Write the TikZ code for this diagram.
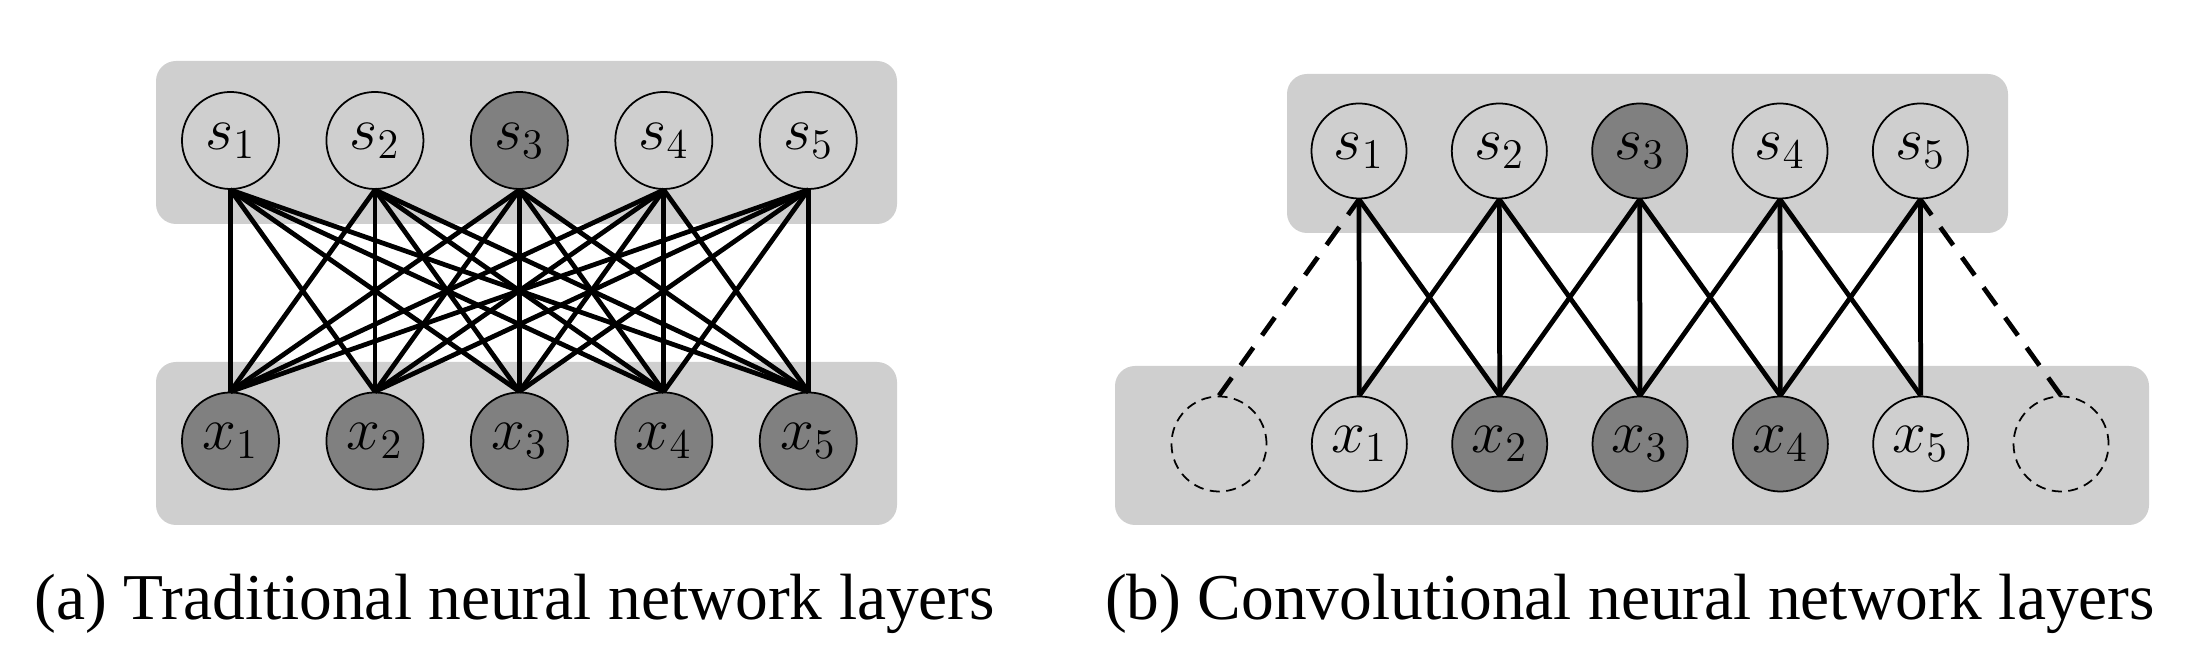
\documentclass[tikz,border=0pt]{standalone}
\usepackage{fontspec}
\setmainfont{Liberation Serif}
\usetikzlibrary{positioning}

\definecolor{panelgray}{gray}{0.81}
\definecolor{nodegray}{gray}{0.5}

\begin{document}
\begin{tikzpicture}[x=0.01cm, y=-0.01cm,
    panel/.style={fill=panelgray, rounded corners=0.2cm},
    unit/.style={circle, draw=black, line width=0.5pt, minimum size=0.97cm, inner sep=0pt, font=\fontsize{17}{20}\selectfont},
    active/.style={unit, fill=nodegray},
    ghost/.style={circle, draw=black, line width=0.5pt, dash pattern=on 0.1cm off 0.065cm, minimum size=0.95cm, inner sep=0pt},
    edge/.style={draw=black, line width=1.35pt},
    pad/.style={edge, dash pattern=on 0.22cm off 0.15cm},
    caption/.style={font=\fontsize{18.6}{22}\selectfont}]

    \useasboundingbox (0,0) rectangle (2212,668);

    % (a) traditional layers
    \fill[panel] (156,61) rectangle (897,224);
    \fill[panel] (156,362) rectangle (897,525);

    \node [unit] (a-s1) at (230.5,140.5) {$s_1$};
    \node [unit, right=0.456cm of a-s1] (a-s2) {$s_2$};
    \node [active, right=0.456cm of a-s2] (a-s3) {$s_3$};
    \node [unit, right=0.456cm of a-s3] (a-s4) {$s_4$};
    \node [unit, right=0.456cm of a-s4] (a-s5) {$s_5$};

    \node [active] (a-x1) at (230.5,441) {$x_1$};
    \node [active, right=0.456cm of a-x1] (a-x2) {$x_2$};
    \node [active, right=0.456cm of a-x2] (a-x3) {$x_3$};
    \node [active, right=0.456cm of a-x3] (a-x4) {$x_4$};
    \node [active, right=0.456cm of a-x4] (a-x5) {$x_5$};

    \foreach \i in {1,...,5}
        \foreach \j in {1,...,5}
            \draw [edge] (a-s\i.south) -- (a-x\j.north);

    % (b) convolutional layers
    \fill[panel] (1287,74) rectangle (2008,233);
    \fill[panel] (1115,366) rectangle (2149,525);

    \node [unit, minimum size=0.95cm] (b-s1) at (1359,151) {$s_1$};
    \node [unit, minimum size=0.95cm, right=0.435cm of b-s1] (b-s2) {$s_2$};
    \node [active, minimum size=0.95cm, right=0.435cm of b-s2] (b-s3) {$s_3$};
    \node [unit, minimum size=0.95cm, right=0.435cm of b-s3] (b-s4) {$s_4$};
    \node [unit, minimum size=0.95cm, right=0.435cm of b-s4] (b-s5) {$s_5$};

    \node [ghost] (b-x0) at (1219,444) {};
    \node [unit, minimum size=0.95cm, right=0.435cm of b-x0] (b-x1) {$x_1$};
    \node [active, minimum size=0.95cm, right=0.435cm of b-x1] (b-x2) {$x_2$};
    \node [active, minimum size=0.95cm, right=0.435cm of b-x2] (b-x3) {$x_3$};
    \node [active, minimum size=0.95cm, right=0.435cm of b-x3] (b-x4) {$x_4$};
    \node [unit, minimum size=0.95cm, right=0.435cm of b-x4] (b-x5) {$x_5$};
    \node [ghost, right=0.435cm of b-x5] (b-x6) {};

    \foreach \j in {1,...,5}
        \draw [edge] (b-s\j.south) -- (b-x\j.north);
    \foreach \j [count=\k from 2] in {1,...,4} {
        \draw [edge] (b-s\j.south) -- (b-x\k.north);
        \draw [edge] (b-s\k.south) -- (b-x\j.north);
    }
    \draw [pad] (b-x0.north) -- (b-s1.south);
    \draw [pad] (b-x6.north) -- (b-s5.south);

    % captions
    \node [caption] (cap-a) at (515,604) {(a) Traditional neural network layers};
    \node [caption] (cap-b) at (1630,604) {(b) Convolutional neural network layers};
\end{tikzpicture}
\end{document}
